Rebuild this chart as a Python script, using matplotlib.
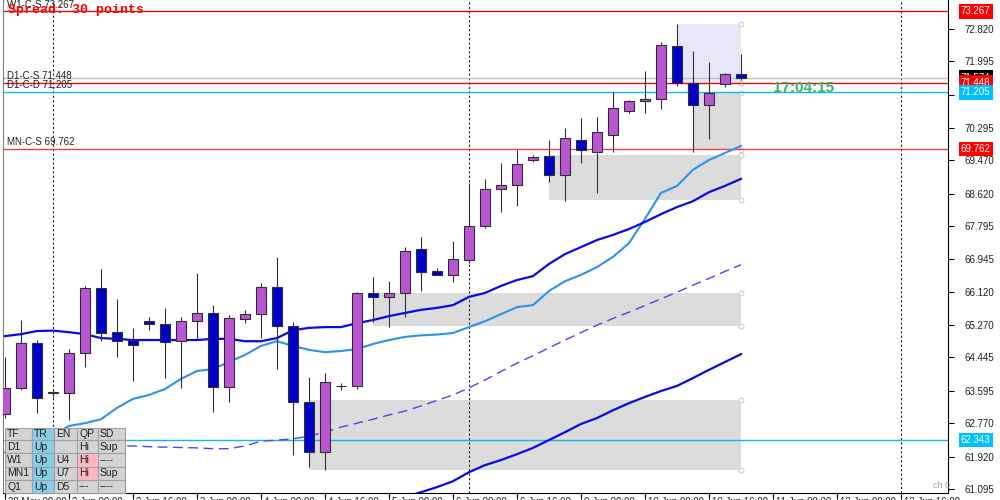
import matplotlib
matplotlib.use("Agg")
import matplotlib.pyplot as plt
import matplotlib.transforms as mtransforms
from matplotlib.patches import Rectangle
import numpy as np

# OHLC bars
bar_open = [63.00, 63.67, 64.81, 63.54, 63.55, 64.56, 66.21, 65.09, 64.89, 65.38,
            65.31, 64.86, 65.38, 65.57, 63.70, 65.43, 65.55, 66.25, 65.25, 63.32,
            62.04, 63.72, 63.72, 66.08, 65.99, 66.10, 67.20, 66.65, 66.55, 66.93,
            67.80, 68.74, 68.84, 69.48, 69.58, 69.10, 69.99, 69.68, 70.12, 70.73,
            70.98, 71.03, 72.39, 71.44, 70.88, 71.41, 71.67]
bar_high = [64.46, 65.40, 64.88, 63.61, 64.66, 66.27, 66.69, 65.93, 65.19, 65.48,
            65.70, 65.48, 66.59, 65.78, 65.53, 65.66, 66.34, 67.01, 65.36, 63.95,
            64.04, 63.80, 66.12, 66.49, 66.40, 67.27, 67.51, 66.72, 67.41, 68.89,
            68.99, 69.40, 69.74, 69.61, 69.99, 70.30, 70.55, 70.58, 71.21, 71.01,
            71.76, 72.50, 72.95, 72.27, 71.99, 71.71, 72.18]
bar_low = [62.90, 63.62, 63.03, 63.44, 62.85, 64.21, 64.87, 64.45, 63.85, 65.14,
           63.91, 63.66, 64.91, 63.06, 63.32, 65.33, 64.93, 64.14, 61.96, 61.66,
           61.58, 63.61, 63.63, 65.36, 65.23, 65.47, 66.15, 66.55, 66.38, 66.85,
           67.74, 68.16, 68.31, 69.44, 68.91, 68.44, 69.41, 68.65, 69.68, 70.69,
           70.69, 70.77, 71.37, 69.69, 70.01, 71.35, 71.52]
bar_close = [63.67, 64.81, 63.41, 63.56, 64.55, 66.22, 65.08, 64.87, 64.77, 65.30,
             64.85, 65.38, 65.57, 63.70, 65.46, 65.55, 66.25, 65.25, 63.32, 62.04,
             63.83, 63.73, 66.08, 65.99, 66.10, 67.17, 66.62, 66.55, 66.95, 67.80,
             68.74, 68.84, 69.38, 69.56, 69.10, 70.04, 69.74, 70.19, 70.81, 70.98,
             71.04, 72.41, 71.44, 70.88, 71.18, 71.67, 71.574]

# moving averages
ma_blue = [64.99, 65.04, 65.12, 65.13, 65.09, 65.04, 64.94, 64.92, 64.89, 64.89,
           64.89, 64.89, 64.89, 64.92, 64.92, 64.86, 64.86, 64.94, 65.14, 65.20,
           65.22, 65.22, 65.32, 65.40, 65.50, 65.58, 65.66, 65.71, 65.78, 65.99,
           66.09, 66.27, 66.42, 66.52, 66.83, 67.08, 67.26, 67.44, 67.57, 67.72,
           67.90, 68.10, 68.28, 68.43, 68.66, 68.82, 69.00]
ma_light = [62.03, 62.14, 62.29, 62.47, 62.70, 62.77, 62.87, 63.16, 63.39, 63.49,
            63.64, 63.90, 64.10, 64.15, 64.33, 64.51, 64.74, 64.86, 64.74, 64.64,
            64.58, 64.61, 64.66, 64.79, 64.89, 64.97, 65.01, 65.03, 65.07, 65.22,
            65.37, 65.55, 65.73, 65.78, 66.14, 66.39, 66.55, 66.75, 67.01, 67.36,
            67.98, 68.64, 68.82, 69.23, 69.48, 69.66, 69.84]
ma_dashed = [62.22, 62.22, 62.22, 62.22, 62.22, 62.22, 62.21, 62.19, 62.19, 62.17,
             62.16, 62.15, 62.14, 62.12, 62.12, 62.19, 62.31, 62.34, 62.37, 62.44,
             62.54, 62.67, 62.77, 62.87, 62.98, 63.08, 63.21, 63.35, 63.49, 63.67,
             63.87, 64.09, 64.30, 64.49, 64.69, 64.89, 65.08, 65.27, 65.44, 65.60,
             65.77, 65.94, 66.11, 66.29, 66.46, 66.64, 66.81]
ma_low = [np.nan] * 25 + [60.89, 61.01, 61.14, 61.29, 61.52, 61.70, 61.83, 61.98,
                          62.14, 62.34, 62.54, 62.75, 62.90, 63.10, 63.28, 63.44,
                          63.59, 63.72, 63.92, 64.13, 64.33, 64.53]

# supply/demand zones: first bar, last bar, low, high
zone_start = [19, 23, 34, 43, 42]
zone_end = [46, 46, 46, 46, 46]
zone_low = [61.58, 65.25, 68.46, 69.74, 71.44]
zone_high = [63.36, 66.08, 69.61, 71.19, 72.95]
zone_color = ['#dcdcdc', '#dcdcdc', '#dcdcdc', '#dcdcdc', '#e6e6f8']

# horizontal levels
level_price = [73.267, 71.448, 71.205, 69.762, 62.343]
level_color = ['#e01010', '#e01010', '#10b8f0', '#ec4040', '#10b8f0']
level_name = ['W1-C-S 73.267', 'D1-C-S 71.448', 'D1-C-D 71.205', 'MN-C-S 69.762', '']
bid_price = 71.574

y_ticks = [72.820, 71.995, 71.145, 70.295, 69.470, 68.620, 67.795, 66.945,
           66.120, 65.270, 64.445, 63.595, 62.770, 61.920, 61.095]
time_labels = ['30 May 08:00', '2 Jun 00:00', '2 Jun 16:00', '3 Jun 08:00',
               '4 Jun 00:00', '4 Jun 16:00', '5 Jun 08:00', '6 Jun 00:00',
               '6 Jun 16:00', '9 Jun 08:00', '10 Jun 00:00', '10 Jun 16:00',
               '11 Jun 08:00', '12 Jun 00:00', '12 Jun 16:00']
vlines_at = [3, 29, 56]

table_rows = [['TF', 'TR', 'EN', 'QP', 'SD'],
              ['D1', 'Up', '', 'Hi', 'Sup'],
              ['W1', 'Up', 'U4', 'Hi', '----'],
              ['MN1', 'Up', 'U7', 'Hi', 'Sup'],
              ['Q1', 'Up', 'D5', '---', '----']]

fig = plt.figure(figsize=(10, 5), dpi=100)
ax = fig.add_axes([0.003, 0.014, 0.945, 0.986])
ax.set_xlim(-0.125, 58.94)
ax.set_ylim(60.99, 73.56)

# zones
for s, e, lo, hi, col in zip(zone_start, zone_end, zone_low, zone_high, zone_color):
    ax.add_patch(Rectangle((s, lo), e - s, hi - lo, facecolor=col, edgecolor='none', zorder=0))
    for yy in (lo, hi):
        ax.plot(e, yy, 'o', ms=3.5, mfc='white', mec='#c8c8c8', mew=0.7, zorder=1)

# dotted vertical separators
for xv in vlines_at:
    ax.axvline(xv, color='#202020', lw=0.8, ls=(0, (2, 2)), zorder=1)

# price levels
ax.axhline(bid_price, color='#c0c0c0', lw=1, zorder=2)
for p, col in zip(level_price, level_color):
    ax.axhline(p, color=col, lw=1.0, zorder=2)
for p, name in zip(level_price, level_name):
    if name:
        ax.text(0.15, p + 0.05, name, fontsize=7, family='Liberation Sans',
                color='#202020', va='bottom', ha='left', zorder=3)

# moving averages
x = np.arange(len(bar_open))
ax.plot(x, ma_light, color='#2a93f0', lw=1.5, zorder=3)
ax.plot(x, ma_blue, color='#0a0ae6', lw=1.6, zorder=3)
ax.plot(x, ma_dashed, color='#4848f0', lw=1.0, ls=(0, (7, 4)), zorder=3)
ax.plot(x, ma_low, color='#0a0ae6', lw=1.6, zorder=3)

# candles
for i in x:
    o, h, l, c = bar_open[i], bar_high[i], bar_low[i], bar_close[i]
    body = '#ba55d3' if c >= o else '#0000c8'
    ax.vlines(i, l, h, color='#303030', lw=0.8, zorder=4)
    ax.add_patch(Rectangle((i - 0.3, min(o, c)), 0.6, max(abs(c - o), 0.004),
                           facecolor=body, edgecolor='#303030', lw=0.8, zorder=5))

# axes styling
ax.spines['top'].set_visible(False)
ax.spines['left'].set_color('#808080')
ax.yaxis.tick_right()
ax.set_yticks(y_ticks)
ax.set_yticklabels(['%.3f' % v for v in y_ticks], fontsize=7, family='Liberation Sans',
                   color='#202020')
ax.tick_params(axis='y', length=4, width=0.8, pad=8)
ax.set_xticks(range(0, 57, 4))
ax.set_xticklabels([])
ax.tick_params(axis='x', length=4, width=0.8, direction='out')

# time labels, mostly cut by the bottom edge as in the terminal
trans = mtransforms.blended_transform_factory(ax.transData, ax.transAxes)
for k, lab in zip(range(0, 57, 4), time_labels):
    ax.text(k + 0.2, -0.008, lab, transform=trans, fontsize=7, family='Liberation Sans',
            color='#202020', va='top', ha='left', clip_on=False)

# price boxes on the right axis
ytrans = mtransforms.blended_transform_factory(ax.transAxes, ax.transData)
box_price = [73.267, bid_price, 71.448, 71.205, 69.762, 62.343]
box_color = ['#ff0000', '#000000', '#ff0000', '#00bfff', '#ff0000', '#00bfff']
for p, col in zip(box_price, box_color):
    ax.text(1.0137, p, '%.3f' % p, transform=ytrans, fontsize=7, family='Liberation Sans',
            color='white', va='center', ha='left', zorder=10, clip_on=False,
            bbox=dict(boxstyle='square,pad=0.25', facecolor=col, edgecolor='none'))

# overlay in pixel coordinates for the texts and the status table
ov = fig.add_axes([0, 0, 1, 1])
ov.set_xlim(0, 1000)
ov.set_ylim(500, 0)
ov.axis('off')
ov.patch.set_alpha(0)

ov.text(8, 10, 'Spread: 30 points', color='#ff0000', fontsize=9.5,
        family='Liberation Mono', weight='bold', va='center', ha='left')
ov.text(773, 88, '17:04:15', color='#3cb371', fontsize=11, family='Liberation Sans',
        weight='bold', va='center', ha='left')
ov.text(933, 485, 'ch 0', color='#a0a0a0', fontsize=6.5, family='Liberation Sans',
        va='center', ha='left')

col_x = [5, 32, 54, 77, 98, 125]
row_y = [428, 440, 453, 467, 480, 493]
for r, row in enumerate(table_rows):
    for cidx, val in enumerate(row):
        fc = '#d3d3d3'
        if cidx == 1:
            fc = '#87ceeb'
        if cidx == 3 and row[0] in ('W1', 'MN1'):
            fc = '#ffb6c1'
        ov.add_patch(Rectangle((col_x[cidx], row_y[r]), col_x[cidx + 1] - col_x[cidx],
                               row_y[r + 1] - row_y[r], facecolor=fc,
                               edgecolor='#a0a0a0', lw=0.8))
        ov.text(col_x[cidx] + 2, (row_y[r] + row_y[r + 1]) / 2, val, fontsize=7.5,
                family='Liberation Sans', color='#202020', va='center', ha='left')

fig.savefig('out.png', dpi=100)
